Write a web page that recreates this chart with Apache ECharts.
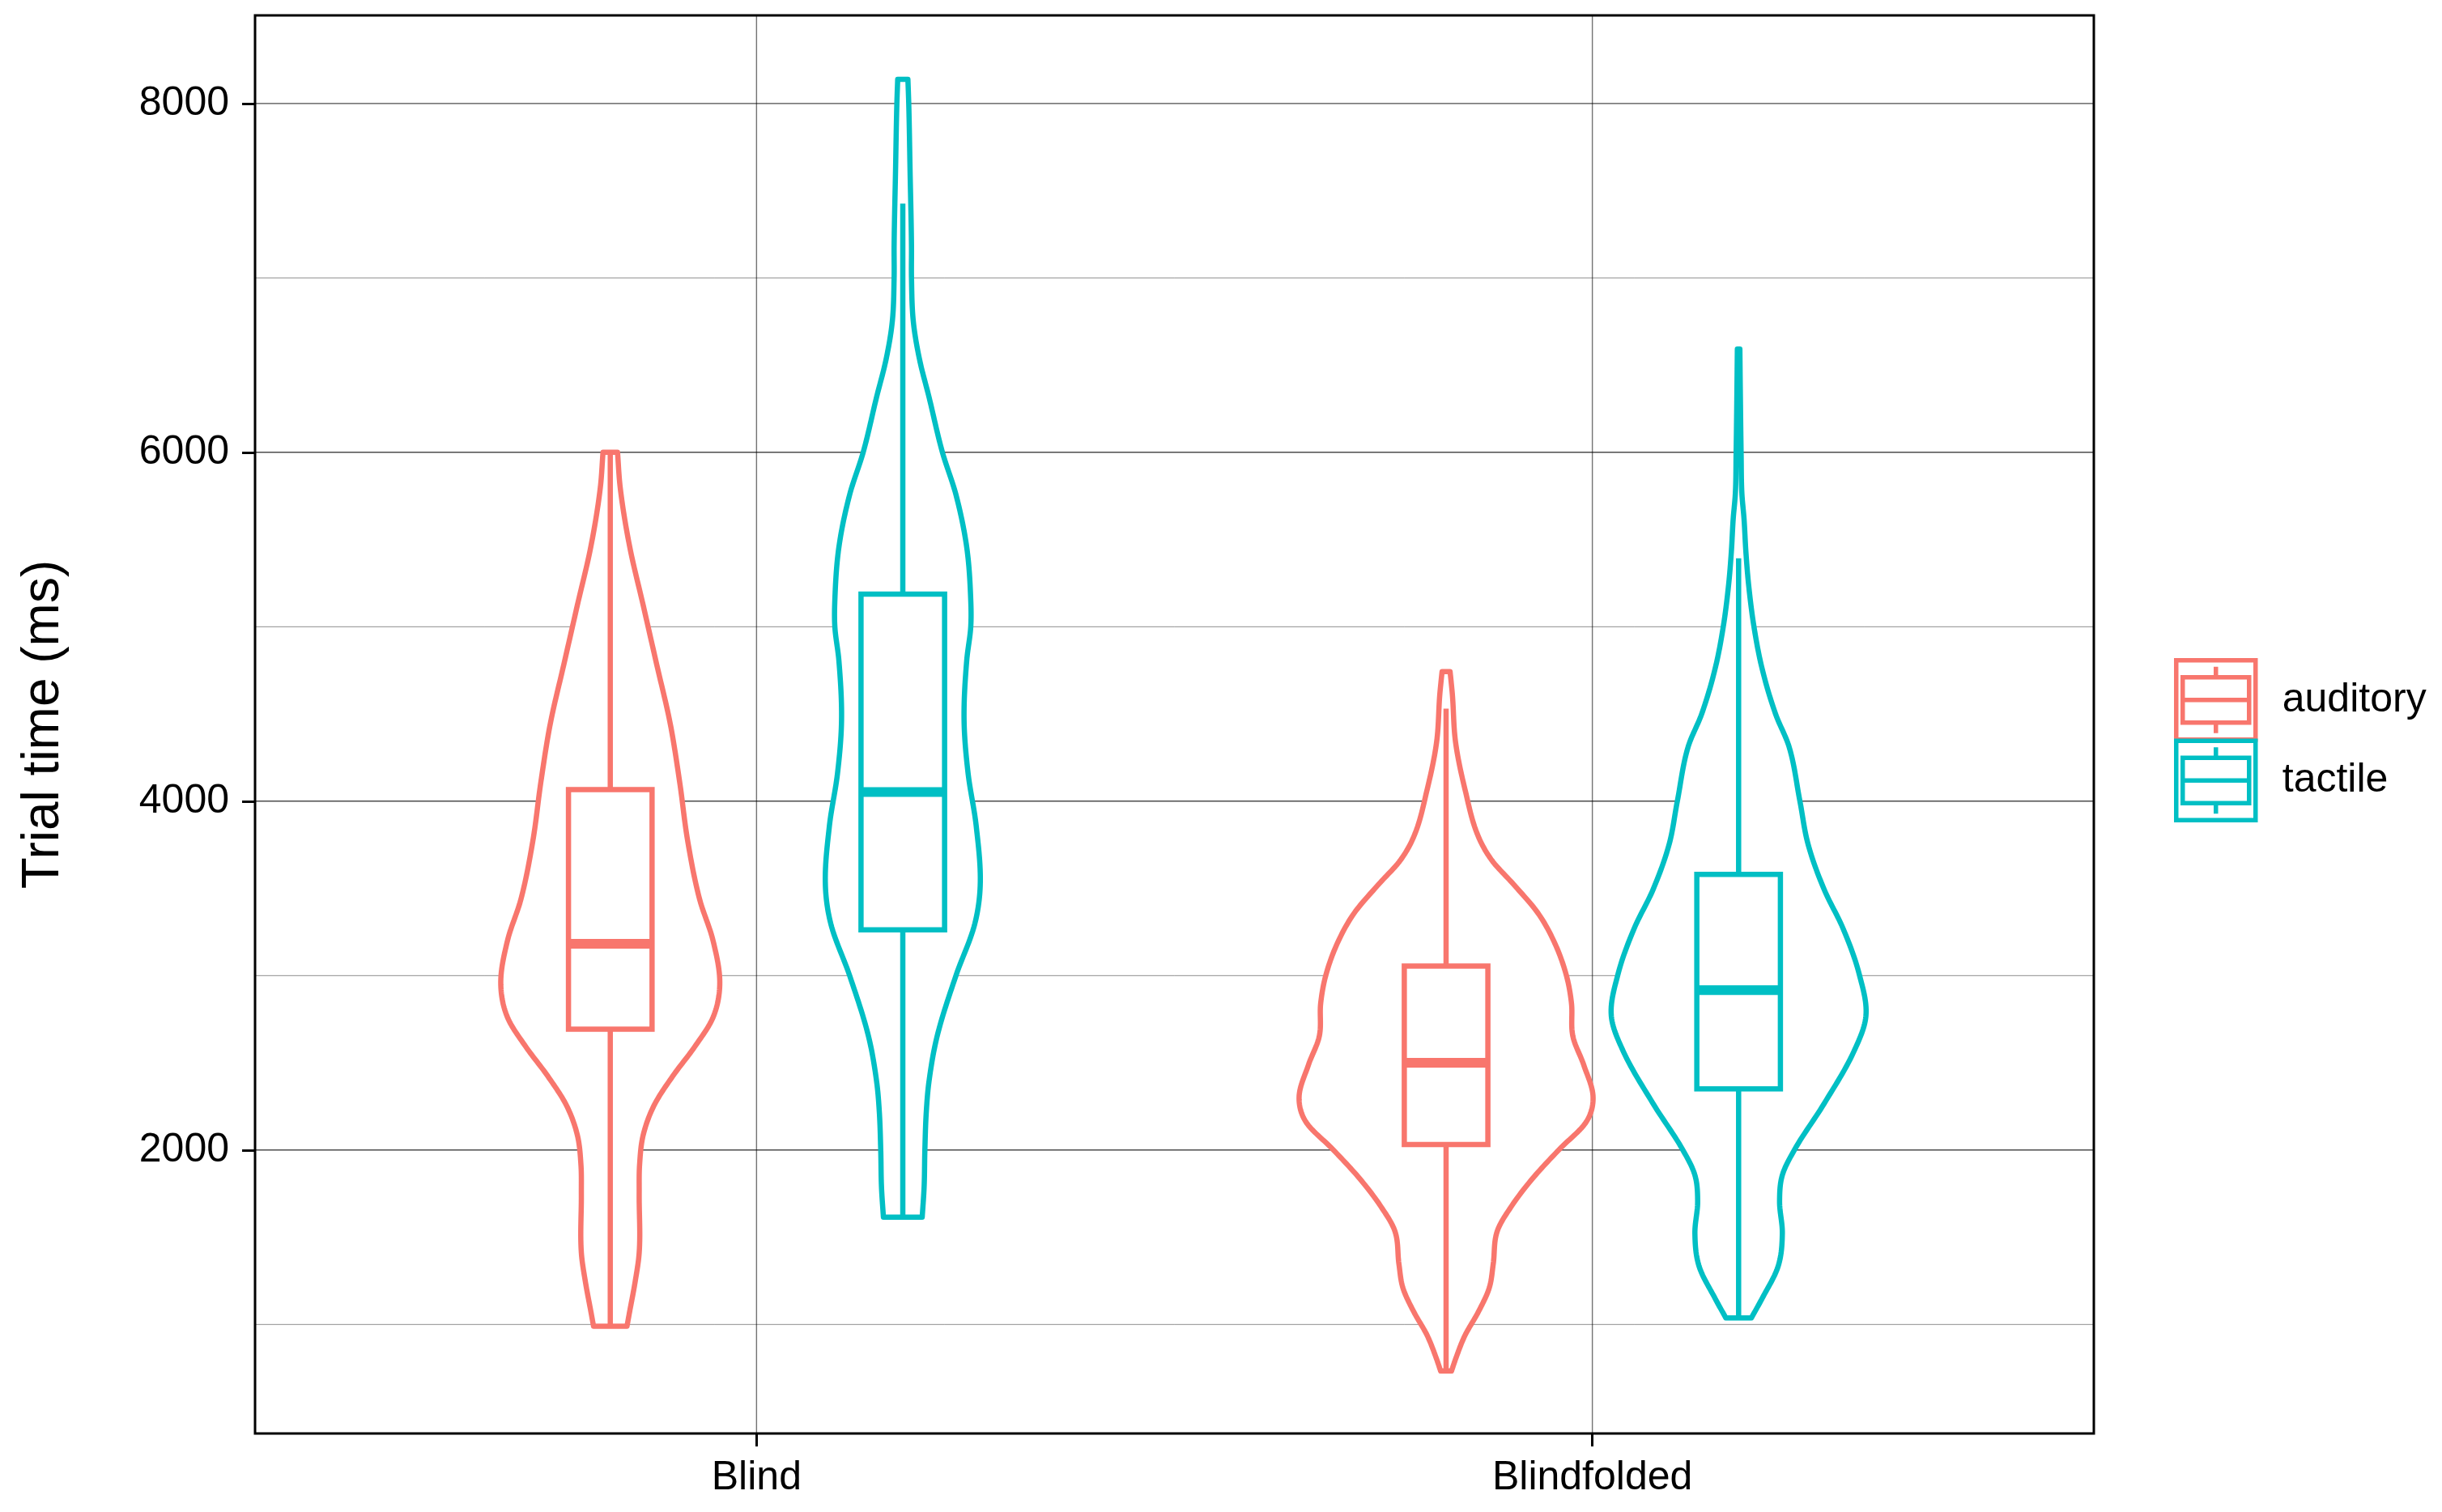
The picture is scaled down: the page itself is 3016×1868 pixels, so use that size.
<!DOCTYPE html>
<html>
<head>
<meta charset="utf-8">
<script src="https://cdn.jsdelivr.net/npm/echarts@6/dist/echarts.min.js"></script>
<style>
html, body { margin: 0; padding: 0; background: #fff; }
#main { width: 3016px; height: 1868px; }
</style>
</head>
<body>
<div id="main"></div>
<script>
const categories = ['Blind', 'Blindfolded'];
const groups = ['auditory', 'tactile'];
const colors = ['#F8766D', '#00BFC4'];
const yTicks = [2000, 4000, 6000, 8000];
const yMinorLines = [1000, 3000, 5000, 7000];
const xBreaks = [1, 2];

// violin outlines: [trial time, half width in category units], bottom to top
const violinBlindAuditory = [
    [990, 0.020], [1074, 0.0232], [1243, 0.0297], [1411, 0.0346], [1749, 0.0346],
    [1917, 0.0351], [2086, 0.0394], [2255, 0.0523], [2424, 0.0748], [2592, 0.101],
    [2761, 0.123], [2947, 0.131], [3200, 0.123], [3436, 0.107], [3773, 0.0926],
    [4111, 0.083], [4448, 0.0716], [4785, 0.0555], [5123, 0.0394], [5460, 0.0232],
    [5798, 0.0119], [6000, 0.0087]
];
const violinBlindfoldedAuditory = [
    [733, 0.0065], [801, 0.0113], [937, 0.0226], [1073, 0.0387], [1209, 0.0516],
    [1346, 0.0564], [1536, 0.0613], [1672, 0.0774], [1836, 0.1033], [2004, 0.1355],
    [2162, 0.1678], [2298, 0.1759], [2489, 0.1646], [2652, 0.1517], [2843, 0.150],
    [3007, 0.1436], [3197, 0.129], [3360, 0.1097], [3524, 0.0806], [3660, 0.0549],
    [3796, 0.0387], [4068, 0.0226], [4340, 0.0113], [4613, 0.0075], [4743, 0.0048]
];
const violinBlindTactile = [
    [1615, 0.0232], [1788, 0.0255], [2000, 0.0264], [2219, 0.0281], [2392, 0.0313],
    [2651, 0.041], [3000, 0.0636], [3298, 0.0862], [3513, 0.0926], [3859, 0.0878],
    [4160, 0.0781], [4463, 0.0733], [4808, 0.0765], [5000, 0.0813], [5153, 0.0813],
    [5455, 0.0765], [5757, 0.0636], [6000, 0.0474], [6318, 0.0313], [6533, 0.020],
    [6749, 0.0126], [7000, 0.0104], [7180, 0.0104], [7612, 0.0087], [8000, 0.0071],
    [8138, 0.0061]
];
const violinBlindfoldedTactile = [
    [1037, 0.0152], [1149, 0.0281], [1335, 0.0474], [1521, 0.0523], [1707, 0.049],
    [1856, 0.0523], [2001, 0.0668], [2266, 0.1023], [2564, 0.1378], [2768, 0.1523],
    [3010, 0.1442], [3271, 0.1249], [3494, 0.1023], [3755, 0.083], [4001, 0.0733],
    [4313, 0.0603], [4500, 0.0442], [4760, 0.0281], [4999, 0.0184], [5244, 0.0119],
    [5430, 0.0087], [5617, 0.0065], [5765, 0.0039], [5989, 0.003], [6361, 0.002],
    [6592, 0.0015]
];

// box stats: [lower whisker, q1, median, q3, upper whisker], one row per category
const boxAuditory = [[990, 2693, 3183, 4067, 6000], [733, 2032, 2500, 3055, 4531]];
const boxTactile = [[1615, 3263, 4053, 5187, 7426], [1037, 2351, 2917, 3580, 5393]];

const FONT = "'Liberation Sans', Arial, sans-serif";
const DODGE = 0.175;
const BOX_HALF = 0.05;
const LW = 6.5;

// hermite curve x(y) through the outline points, only to draw the outline smoothly
function smoothSide(pts, steps) {
    const n = pts.length;
    const d = [];
    for (let i = 0; i < n - 1; i++) {
        d.push((pts[i + 1][0] - pts[i][0]) / (pts[i + 1][1] - pts[i][1]));
    }
    const m = pts.map((p, i) => i === 0 ? d[0] : i === n - 1 ? d[n - 2] : (d[i - 1] + d[i]) / 2);
    const out = [];
    for (let i = 0; i < n - 1; i++) {
        const h = pts[i + 1][1] - pts[i][1];
        for (let s = 0; s < steps; s++) {
            const t = s / steps, t2 = t * t, t3 = t2 * t;
            const x = (2 * t3 - 3 * t2 + 1) * pts[i][0] + (t3 - 2 * t2 + t) * h * m[i] +
                (-2 * t3 + 3 * t2) * pts[i + 1][0] + (t3 - t2) * h * m[i + 1];
            out.push([x, pts[i][1] + t * h]);
        }
    }
    out.push(pts[n - 1]);
    return out;
}

function violinRenderer(profiles, color) {
    return function (params, api) {
        const prof = profiles[params.dataIndex];
        const xc = api.value(0);
        const left = smoothSide(prof.map(p => api.coord([xc - p[1], p[0]])), 14);
        const right = smoothSide(prof.map(p => api.coord([xc + p[1], p[0]])), 14).reverse();
        const wLo = api.coord([xc, api.value(1)]);
        const q1 = api.coord([xc - BOX_HALF, api.value(2)]);
        const med = api.coord([xc - BOX_HALF, api.value(3)]);
        const q3 = api.coord([xc + BOX_HALF, api.value(4)]);
        const wHi = api.coord([xc, api.value(5)]);
        return {
            type: 'group',
            children: [
                {
                    type: 'polygon',
                    shape: { points: left.concat(right) },
                    style: { fill: '#fff', stroke: color, lineWidth: LW, lineJoin: 'round' }
                },
                {
                    type: 'line',
                    shape: { x1: wLo[0], y1: wLo[1], x2: wLo[0], y2: q1[1] },
                    style: { stroke: color, lineWidth: LW }
                },
                {
                    type: 'line',
                    shape: { x1: wHi[0], y1: wHi[1], x2: wHi[0], y2: q3[1] },
                    style: { stroke: color, lineWidth: LW }
                },
                {
                    type: 'rect',
                    shape: { x: q1[0], y: q3[1], width: q3[0] - q1[0], height: q1[1] - q3[1] },
                    style: { fill: '#fff', stroke: color, lineWidth: LW }
                },
                {
                    type: 'line',
                    shape: { x1: q1[0], y1: med[1], x2: q3[0], y2: med[1] },
                    style: { stroke: color, lineWidth: 12 }
                }
            ]
        };
    };
}

function hLineRenderer(width, color) {
    return function (params, api) {
        const cs = params.coordSys;
        const y = api.coord([1, api.value(1)])[1];
        return {
            type: 'line',
            shape: { x1: cs.x, y1: y, x2: cs.x + cs.width, y2: y },
            style: { stroke: color, lineWidth: width }
        };
    };
}

function vLineRenderer(width, color) {
    return function (params, api) {
        const cs = params.coordSys;
        const x = api.coord([api.value(0), 4000])[0];
        return {
            type: 'line',
            shape: { x1: x, y1: cs.y, x2: x, y2: cs.y + cs.height },
            style: { stroke: color, lineWidth: width }
        };
    };
}

const KEY_PATH = 'path://M0,0 H98 V98 H0 Z M8,21 H90 V77 H8 Z M8,49 H90 M49,8 V21 M49,77 V90';

let chart = echarts.init(document.getElementById('main'));
option = {
    animation: false,
    backgroundColor: '#fff',
    grid: {
        left: 315,
        top: 19,
        width: 2271,
        height: 1752,
        show: true,
        borderColor: '#000',
        borderWidth: 3,
        backgroundColor: 'transparent'
    },
    xAxis: {
        type: 'value',
        min: 0.4,
        max: 2.6,
        axisLine: { show: false },
        splitLine: { show: false },
        axisTick: { show: true, customValues: xBreaks, length: 16, lineStyle: { color: '#000', width: 3 } },
        axisLabel: {
            customValues: xBreaks,
            formatter: v => categories[Math.round(v) - 1],
            fontSize: 50,
            fontFamily: FONT,
            color: '#000',
            margin: 30
        }
    },
    yAxis: {
        type: 'value',
        min: 375,
        max: 8505,
        name: 'Trial time (ms)',
        nameLocation: 'middle',
        nameGap: 229,
        nameTextStyle: { fontSize: 64, fontFamily: FONT, color: '#000' },
        axisLine: { show: false },
        splitLine: { show: false },
        axisTick: { show: true, customValues: yTicks, length: 16, lineStyle: { color: '#000', width: 3 } },
        axisLabel: {
            customValues: yTicks,
            formatter: v => String(v),
            fontSize: 50,
            fontFamily: FONT,
            color: '#000',
            margin: 32
        }
    },
    legend: {
        orient: 'vertical',
        left: 2685,
        top: 813,
        itemWidth: 98,
        itemHeight: 98,
        itemGap: -4,
        padding: 0,
        selectedMode: false,
        textStyle: { fontSize: 50, fontFamily: FONT, color: '#000', padding: [0, 0, 0, 28] },
        data: groups.map((g, k) => ({
            name: g,
            icon: KEY_PATH,
            itemStyle: { color: 'rgba(0,0,0,0)', borderColor: colors[k], borderWidth: 5.5 }
        }))
    },
    series: [
        {
            name: 'minor',
            type: 'custom',
            z: 1,
            silent: true,
            renderItem: hLineRenderer(1, 'rgba(0,0,0,0.45)'),
            data: yMinorLines.map(v => [1, v])
        },
        {
            name: 'major',
            type: 'custom',
            z: 1,
            silent: true,
            renderItem: hLineRenderer(1.4, 'rgba(0,0,0,0.7)'),
            data: yTicks.map(v => [1, v])
        },
        {
            name: 'xmajor',
            type: 'custom',
            z: 1,
            silent: true,
            renderItem: vLineRenderer(1.4, 'rgba(0,0,0,0.55)'),
            data: xBreaks.map(v => [v, 4000])
        },
        {
            name: 'auditory',
            type: 'custom',
            z: 2,
            itemStyle: { color: colors[0] },
            renderItem: violinRenderer([violinBlindAuditory, violinBlindfoldedAuditory], colors[0]),
            data: boxAuditory.map((b, i) => [i + 1 - DODGE].concat(b))
        },
        {
            name: 'tactile',
            type: 'custom',
            z: 2,
            itemStyle: { color: colors[1] },
            renderItem: violinRenderer([violinBlindTactile, violinBlindfoldedTactile], colors[1]),
            data: boxTactile.map((b, i) => [i + 1 + DODGE].concat(b))
        }
    ]
};
chart.setOption(option);
</script>
</body>
</html>
